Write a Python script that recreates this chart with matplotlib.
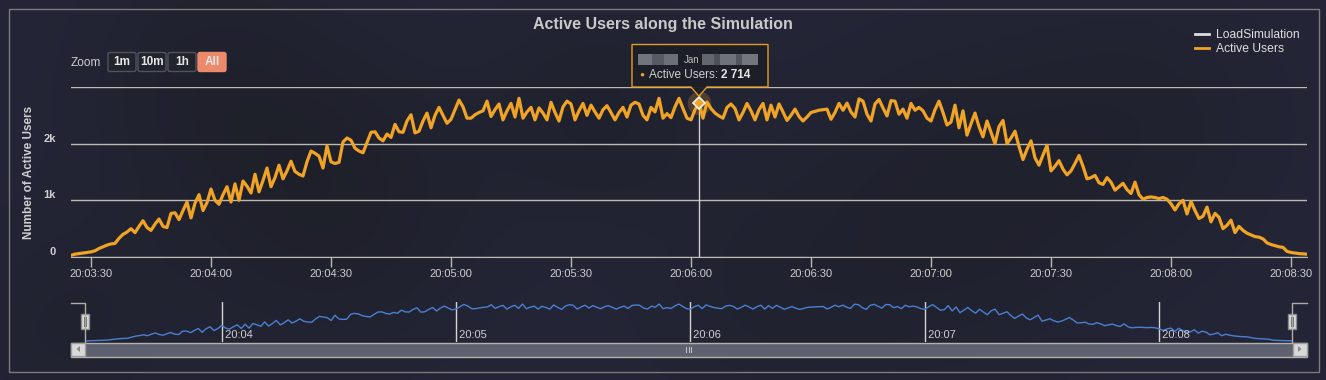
import numpy as np
import matplotlib.pyplot as plt
import matplotlib.dates as mdates
from matplotlib.patches import Rectangle, FancyBboxPatch, Polygon
from matplotlib.lines import Line2D

W, H = 1326, 380
plt.rcParams['font.family'] = ['Liberation Sans', 'DejaVu Sans']

# active users, one value per second from 20:03:25
active_users = [
    30, 50, 60, 70, 80, 90, 110, 150, 180, 210,
    230, 240, 330, 400, 440, 500, 430, 540, 640, 520,
    470, 580, 670, 540, 520, 770, 780, 660, 820, 970,
    690, 950, 1100, 820, 960, 1200, 1000, 930, 1100, 1240,
    970, 1290, 1000, 1340, 1250, 1130, 1460, 1150, 1350, 1570,
    1240, 1400, 1620, 1380, 1520, 1690, 1510, 1460, 1430, 1680,
    1870, 1830, 1780, 1570, 1960, 1680, 1650, 1670, 2030, 2100,
    2060, 1920, 1870, 1840, 2020, 2200, 2210, 2100, 2050, 2170,
    2110, 2340, 2210, 2200, 2400, 2510, 2190, 2220, 2400, 2540,
    2280, 2500, 2640, 2500, 2360, 2430, 2600, 2770, 2650, 2450,
    2450, 2510, 2550, 2580, 2750, 2480, 2600, 2700, 2420, 2580,
    2710, 2470, 2800, 2450, 2560, 2640, 2420, 2630, 2540, 2420,
    2730, 2550, 2400, 2650, 2750, 2700, 2420, 2580, 2710, 2500,
    2680, 2560, 2450, 2600, 2670, 2550, 2420, 2550, 2640, 2470,
    2680, 2730, 2700, 2500, 2420, 2640, 2560, 2800, 2450, 2530,
    2460, 2650, 2800, 2620, 2450, 2420, 2600, 2714, 2450, 2735,
    2620, 2540, 2490, 2450, 2640, 2700, 2620, 2420, 2550, 2710,
    2580, 2420, 2600, 2710, 2420, 2680, 2470, 2700, 2560, 2410,
    2500, 2610, 2480, 2400, 2470, 2550, 2570, 2590, 2600, 2610,
    2430, 2550, 2710, 2590, 2715, 2560, 2470, 2790, 2750, 2520,
    2400, 2700, 2780, 2630, 2490, 2760, 2750, 2520, 2610, 2450,
    2710, 2590, 2640, 2580, 2450, 2400, 2600, 2750, 2550, 2330,
    2380, 2680, 2280, 2580, 2150, 2350, 2540, 2300, 2120, 2400,
    2200, 2000, 2300, 2410, 2000, 2100, 2220, 1950, 1720, 1900,
    2050, 1750, 1620, 1800, 1970, 1520, 1600, 1700, 1550, 1450,
    1520, 1650, 1790, 1600, 1380, 1400, 1440, 1310, 1280, 1400,
    1320, 1180, 1240, 1300, 1190, 1120, 1320, 1100, 1020, 1050,
    1060, 1050, 1030, 1050, 1020, 940, 830, 940, 1000, 760,
    980, 820, 680, 720, 880, 620, 770, 700, 500, 560,
    650, 430, 540, 470, 420, 390, 360, 350, 320, 250,
    220, 200, 180, 170, 100, 80, 70, 60, 55, 50,
]
start = np.datetime64('2024-01-15T20:03:25')
times = start + np.arange(len(active_users)).astype('timedelta64[s]')
users = np.array(active_users)
hover = 157
series_names = ['LoadSimulation', 'Active Users']
zoom_buttons = ['1m', '10m', '1h', 'All']

bg = '#222433'
orange = '#f0a325'
grey_txt = '#cfcfcf'
grid_c = '#bdb9b3'

fig = plt.figure(figsize=(W / 100, H / 100), dpi=100, facecolor=bg)

# cloudy dark background
bga = fig.add_axes([0, 0, 1, 1], zorder=-10)
yy, xx = np.mgrid[0:H, 0:W]
shade = np.zeros((H, W))
for cx, cy, r, a in ((330, 200, 110, 0.55), (600, 110, 80, 0.4), (950, 210, 120, 0.45),
                     (200, 70, 90, 0.35), (1150, 120, 100, 0.3), (60, 330, 90, 0.3),
                     (760, 300, 90, 0.25)):
    shade += a * np.exp(-((xx - cx) ** 2 + (yy - cy) ** 2) / (2 * r ** 2))
shade = np.clip(shade, 0, 1)
base = np.array([0x24, 0x26, 0x38]) / 255
dark = np.array([0x1b, 0x1c, 0x21]) / 255
img = base[None, None, :] * (1 - shade[..., None]) + dark[None, None, :] * shade[..., None]
bga.imshow(img, aspect='auto', extent=(0, W, H, 0))
bga.axis('off')

# ---- main chart
ax = fig.add_axes([71 / W, 1 - 257 / H, 1236 / W, 170 / H])
ax.set_facecolor('none')
ax.plot(times, users, color=orange, lw=2.3, solid_joinstyle='round', zorder=3)
ax.set_xlim(times[0], times[-1])
ax.set_ylim(0, 3000)
ax.set_yticks([0, 1000, 2000, 3000], ['0', '1k', '2k', ''])
for lab in ax.get_yticklabels():
    lab.set_verticalalignment('bottom')
    lab.set_fontweight('bold')
ax.grid(axis='y', color=grid_c, lw=1)
ax.xaxis.set_major_locator(mdates.SecondLocator(bysecond=[0, 30]))
ax.xaxis.set_major_formatter(mdates.DateFormatter('%H:%M:%S'))
ax.tick_params(axis='y', length=0, pad=11, labelsize=8, labelcolor=grey_txt)
ax.tick_params(axis='x', length=7, width=1, color=grid_c, pad=1.5,
               labelsize=8, labelcolor=grey_txt)
for s in ['top', 'right', 'left']:
    ax.spines[s].set_visible(False)
ax.spines['bottom'].set_color(grid_c)
ax.set_ylabel('Number of Active Users', fontsize=8.5, fontweight='bold', color=grey_txt)
ax.yaxis.set_label_coords(-0.0295, 0.5)

# crosshair + hovered point
ax.axvline(times[hover], color='#d0d0d0', lw=1, zorder=2)
ax.plot(times[hover], users[hover], 'o', ms=17, color=orange, alpha=0.22, mec='none', zorder=4)
ax.plot(times[hover], users[hover], 'D', ms=6, mfc=orange, mec='#f4f4f4', mew=1.2, zorder=5)

fig.text(0.5, 1 - 24 / H, 'Active Users along the Simulation', fontsize=11.5, fontweight='bold',
         color='#c9c9c9', ha='center', va='center')

# legend
handles = [Line2D([], [], color='#dddddd', lw=2), Line2D([], [], color=orange, lw=2)]
fig.legend(handles, series_names, loc='upper right', bbox_to_anchor=(1306 / W, 1 - 23 / H),
           frameon=False, fontsize=8.7, handlelength=1.2, handletextpad=0.6,
           labelspacing=0.2, borderpad=0, labelcolor='#dddddd')

# ---- navigator
nav = fig.add_axes([85 / W, 1 - 342 / H, 1207 / W, 40 / H])
nav.set_facecolor('none')
nav.plot(times, users, color='#4b7fd1', lw=1)
nav.set_xlim(times[0], times[-1])
nav.set_ylim(-40, 2950)
nav.xaxis.set_major_locator(mdates.MinuteLocator())
nav.xaxis.set_major_formatter(mdates.DateFormatter('%H:%M'))
nav.grid(axis='x', color='#d4d4d4', lw=1)
nav.tick_params(axis='x', length=0, labelbottom=False)
nav.set_yticks([])
for s in nav.spines.values():
    s.set_visible(False)
for tk in nav.get_xticks():
    nav.text(tk, 0.06, mdates.num2date(tk).strftime(' %H:%M'), transform=nav.get_xaxis_transform(),
             fontsize=8, color=grey_txt, ha='left', va='bottom')

# ---- overlay in pixel coordinates
ov = fig.add_axes([0, 0, 1, 1], zorder=10)
ov.set_xlim(0, W)
ov.set_ylim(H, 0)
ov.axis('off')
ov.patch.set_alpha(0)

ov.add_patch(Rectangle((8.5, 8.5), 1310, 363, fill=False, ec='#7d7a7a', lw=1))

# zoom buttons
ov.text(71, 63, 'Zoom', fontsize=8.5, color=grey_txt, va='center', ha='left')
for i, b in enumerate(zoom_buttons):
    x0 = 107 + 30 * i
    sel = b == 'All'
    ov.add_patch(FancyBboxPatch((x0 + 1, 52.5), 28, 19, boxstyle='round,pad=0,rounding_size=2',
                                fc='#ee8a6c' if sel else '#21232d',
                                ec='#ee8a6c' if sel else '#50535e', lw=1))
    ov.text(x0 + 15, 62, b, fontsize=8.5, fontweight='bold', color='#e6e6e6',
            ha='center', va='center')

# navigator outline, handles and scrollbar
ov.plot([71, 85, 85], [302.5, 302.5, 342], color='#b0aca8', lw=1)
ov.plot([1307, 1292, 1292], [302.5, 302.5, 342], color='#b0aca8', lw=1)
for hx in (85, 1292):
    ov.add_patch(Rectangle((hx - 4, 314), 8, 15, fc='#dcdcdc', ec='#8a8a8a', lw=1))
    ov.plot([hx - 1, hx - 1], [317, 326], color='#777777', lw=0.8)
    ov.plot([hx + 1, hx + 1], [317, 326], color='#777777', lw=0.8)
ov.add_patch(Rectangle((71, 342.5), 1236, 14, fc='#5e6270', ec='#b4b0ac', lw=1))
for bx, tri in ((71, [(80, 346), (80, 352), (76.5, 349)]), (1293, [(1298, 346), (1298, 352), (1301.5, 349)])):
    ov.add_patch(Rectangle((bx, 343), 14, 13, fc='#d9d9d9', ec='#a0a0a0', lw=1))
    ov.add_patch(Polygon(tri, closed=True, fc='#888888', ec='none'))
for gx in (686, 688.5, 691):
    ov.plot([gx, gx], [346.5, 351.5], color='#c8c8c8', lw=0.7)

# tooltip anchored to hovered point
px_x, px_y = ax.transData.transform((mdates.date2num(times[hover]), users[hover]))
px_y = H - px_y
bx0, by0, bw, bh = px_x - 67, 44.5, 136, 42.5
tip = [(bx0, by0), (bx0 + bw, by0), (bx0 + bw, by0 + bh), (px_x + 8, by0 + bh),
       (px_x, px_y - 7), (px_x - 8, by0 + bh), (bx0, by0 + bh)]
ov.add_patch(Polygon(tip, closed=True, fc='#1d1f28', ec=orange, lw=1, alpha=0.95))
for rx, rw, c in ((638, 14, '#7d7f88'), (652, 12, '#5f616a'), (664, 14, '#777982'),
                  (702, 12, '#6c6e77'), (714, 6, '#55575f'), (720, 16, '#7a7c85'),
                  (736, 6, '#5b5d66'), (742, 16, '#7e8089')):
    ov.add_patch(Rectangle((rx, 54), rw, 11, fc=c, ec='none', alpha=0.9))
ov.text(684, 60, 'Jan', fontsize=7, color='#bdbdbd', va='center')
ov.text(639, 75, '\u25cf', fontsize=6, color=orange, va='center')
t1 = ov.text(649, 75, 'Active Users: ', fontsize=8.5, color='#cfcfcf', va='center')
fig.canvas.draw()
bb = t1.get_window_extent()
ov.text(bb.x1, 75, f'{users[hover]:,}'.replace(',', ' '), fontsize=8.5, fontweight='bold',
        color='#e6e6e6', va='center')

fig.savefig('out.png', dpi=100, facecolor=bg)
